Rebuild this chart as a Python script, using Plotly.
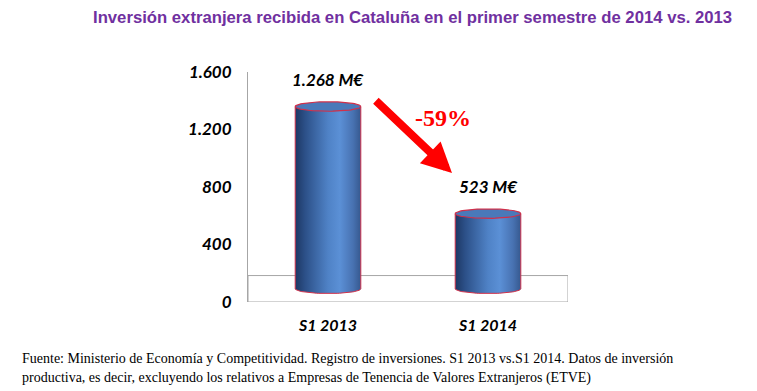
import numpy as np
import plotly.graph_objects as go

# ---- data ----
categories = ["S1 2013", "S1 2014"]
values = [1268, 523]          # M€
tick_vals = [0, 400, 800, 1200, 1600]
title_text = "Inversión extranjera recibida en Cataluña en el primer semestre de 2014 vs. 2013"
source_lines = [
    "Fuente: Ministerio de Economía y Competitividad. Registro de inversiones. S1 2013 vs.S1 2014. Datos de inversión",
    "productiva, es decir, excluyendo los relativos a Empresas de Tenencia de Valores Extranjeros (ETVE)",
]

# ---- style constants ----
DEPTH = 92        # 3D depth offset (data units)
HALF_W = 0.205    # cylinder half width (x units)
RY = 33           # ellipse vertical semi-axis (data units)
OUTLINE = "#d0304a"
body_scale = [[0, "#1d3763"], [0.15, "#2c5088"], [0.5, "#4f82c6"],
              [0.68, "#5b90d6"], [0.88, "#4872b2"], [1, "#36598f"]]

fig = go.Figure()
t = np.linspace(0, np.pi, 40)
tt = np.linspace(0, 2 * np.pi, 80)
for i, (cat, v) in enumerate(zip(categories, values)):
    base = DEPTH
    top = v + DEPTH
    # body: top edge straight, bottom front arc
    xs = [i - HALF_W, i + HALF_W] + list(i + HALF_W * np.cos(t)) + [i - HALF_W]
    ys = [top, top] + list(base - RY * np.sin(t)) + [top]
    fig.add_trace(go.Scatter(x=xs, y=ys, mode="lines", fill="toself",
                             fillgradient=dict(type="horizontal", colorscale=body_scale),
                             line=dict(color=OUTLINE, width=1), hoverinfo="skip",
                             showlegend=False))
    # top ellipse
    fig.add_trace(go.Scatter(x=list(i + HALF_W * np.cos(tt)), y=list(top + RY * np.sin(tt)),
                             mode="lines", fill="toself", fillcolor="#4a79b9",
                             line=dict(color=OUTLINE, width=1.2), hoverinfo="skip",
                             showlegend=False))
    label = f"{v:,}".replace(",", ".") + " M€"
    fig.add_annotation(x=i, y=top, text=f"<b><i>{label}</i></b>", showarrow=False,
                       yshift=27, font=dict(family="Lato", size=17, color="#000000"))

# floor
fig.add_shape(type="rect", xref="x", yref="y", x0=-0.5, x1=1.5, y0=0, y1=2 * DEPTH,
              line=dict(color="#a6a6a6", width=1), layer="below")

# change arrow and percentage
pct = round((values[1] - values[0]) / values[0] * 100)
fig.add_annotation(x=0.775, y=897, ax=0.29, ay=1410, axref="x", ayref="y",
                   xref="x", yref="y", text="", showarrow=True,
                   arrowhead=2, arrowsize=0.75, arrowwidth=8, arrowcolor="#ff0000")
fig.add_annotation(x=0.72, y=1280, text=f"<b>{pct}%</b>", showarrow=False,
                   font=dict(family="Liberation Serif", size=24, color="#ff0000"))

# title and source
fig.add_annotation(xref="paper", yref="paper", x=(412 - 248) / 320, y=1 + (72 - 17) / 230,
                   text=f"<b>{title_text}</b>", showarrow=False, xanchor="center", yanchor="middle",
                   font=dict(family="Liberation Sans", size=16.7, color="#7030a0"))
for k, line in enumerate(source_lines):
    fig.add_annotation(xref="paper", yref="paper", x=(20 - 248) / 320,
                       y=(302 - (358 + 20 * k)) / 230, text=line, showarrow=False,
                       xanchor="left", yanchor="middle",
                       font=dict(family="Liberation Serif", size=14, color="#000000"))

fig.update_layout(
    width=757, height=391,
    margin=dict(l=248, r=189, t=72, b=89),
    paper_bgcolor="white", plot_bgcolor="white",
    separators=",.",
    showlegend=False,
)
fig.update_xaxes(range=[-0.5, 1.5], tickvals=[0, 1], ticktext=categories,
                 showgrid=False, zeroline=False, showline=False, ticks="",
                 ticklabelstandoff=12,
                 tickfont=dict(family="Lato", size=16, color="#000000", weight="bold", style="italic"))
fig.update_yaxes(range=[0, 1600], tickvals=tick_vals, tickformat=",.0f",
                 showgrid=False, zeroline=False, showline=True, linecolor="#a6a6a6", linewidth=1,
                 ticks="", ticklabelstandoff=12,
                 tickfont=dict(family="Lato", size=17, color="#000000", weight="bold", style="italic"))

fig.write_html("out.html", config={"displayModeBar": False},
               post_script="document.body.style.margin='0';")
